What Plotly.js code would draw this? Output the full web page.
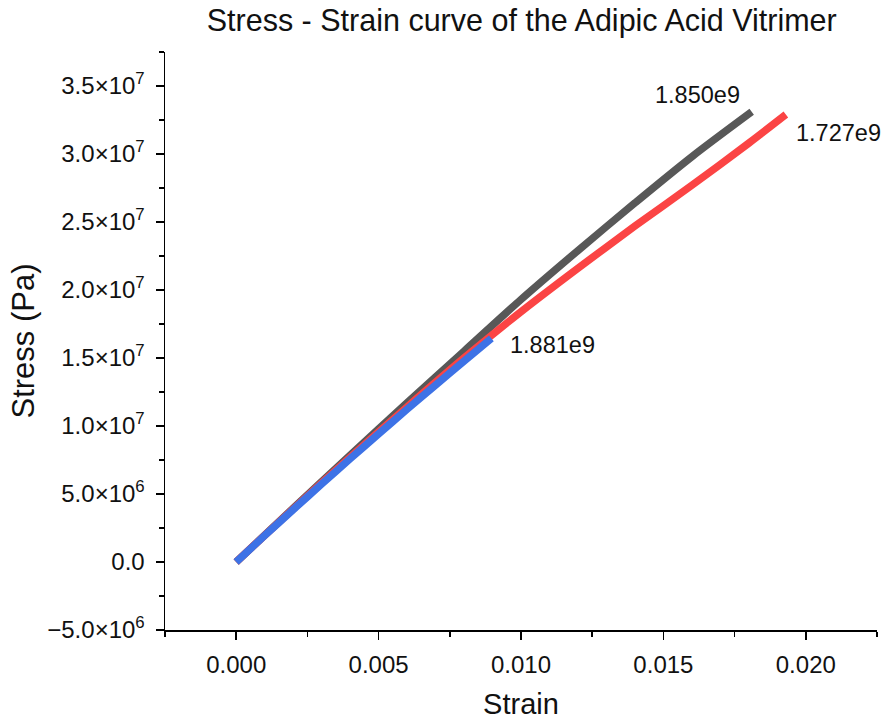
<!DOCTYPE html>
<html>
<head>
<meta charset="utf-8">
<script src="https://cdn.plot.ly/plotly-3.0.1.min.js"></script>
<style>html,body{margin:0;padding:0;background:#fff;}#chart{width:887px;height:721px;}</style>
</head>
<body>
<div id="chart"></div>
<script>
// Data
const strainGray = [0, 0.002, 0.004, 0.006, 0.008, 0.010, 0.012, 0.014, 0.016, 0.0181];
const stressGray = [0, 3.95e6, 7.85e6, 1.17e7, 1.55e7, 1.93e7, 2.29e7, 2.64e7, 2.98e7, 3.31e7];

const strainRed = [0, 0.002, 0.004, 0.006, 0.008, 0.010, 0.012, 0.014, 0.016, 0.018, 0.0193];
const stressRed = [0, 3.9e6, 7.7e6, 1.14e7, 1.50e7, 1.84e7, 2.16e7, 2.47e7, 2.77e7, 3.08e7, 3.29e7];

const strainBlue = [0, 0.001, 0.002, 0.003, 0.004, 0.005, 0.006, 0.007, 0.008, 0.00896];
const stressBlue = [0, 1.94e6, 3.85e6, 5.73e6, 7.59e6, 9.42e6, 1.123e7, 1.301e7, 1.477e7, 1.645e7];

const modulusLabels = ["1.850e9", "1.727e9", "1.881e9"];

const xTickVals = [0, 0.005, 0.010, 0.015, 0.020];
const xTickText = ["0.000", "0.005", "0.010", "0.015", "0.020"];
const yTickVals = [-5e6, 0, 5e6, 1e7, 1.5e7, 2e7, 2.5e7, 3e7, 3.5e7];
const yTickText = ["\u22125.0\u00d710<sup>6</sup>", "0.0", "5.0\u00d710<sup>6</sup>", "1.0\u00d710<sup>7</sup>",
  "1.5\u00d710<sup>7</sup>", "2.0\u00d710<sup>7</sup>", "2.5\u00d710<sup>7</sup>", "3.0\u00d710<sup>7</sup>", "3.5\u00d710<sup>7</sup>"];

const font = "Liberation Sans, Arial, sans-serif";
const ink = "#111";

const traces = [
  {x: strainGray, y: stressGray, mode: "lines", line: {color: "#585858", width: 7.5, shape: "spline", smoothing: 0.8}, hoverinfo: "skip"},
  {x: strainRed, y: stressRed, mode: "lines", line: {color: "#fb4444", width: 7.5, shape: "spline", smoothing: 0.8}, hoverinfo: "skip"},
  {x: strainBlue, y: stressBlue, mode: "lines", line: {color: "#3d72e6", width: 7.5, shape: "spline", smoothing: 0.8}, hoverinfo: "skip"}
];

const layout = {
  width: 887, height: 721,
  margin: {l: 165, r: 10, t: 52, b: 91},
  paper_bgcolor: "#fff", plot_bgcolor: "#fff",
  showlegend: false,
  font: {family: font, size: 24, color: ink},
  title: {text: "Stress - Strain curve of the Adipic Acid Vitrimer", font: {family: font, size: 30.5, color: ink},
    xref: "paper", x: 0.501, xanchor: "center", yref: "container", y: 0.972, yanchor: "middle"},
  xaxis: {
    range: [-0.0025, 0.0225], showgrid: false, zeroline: false,
    showline: true, linecolor: "#000", linewidth: 1.5,
    ticks: "outside", ticklen: 8, tickwidth: 1.5, tickcolor: "#000",
    tickvals: xTickVals, ticktext: xTickText, ticklabelstandoff: 5,
    tickfont: {family: font, size: 24, color: ink},
    minor: {dtick: 0.0025, tick0: 0, ticks: "outside", ticklen: 5, tickwidth: 1.5, tickcolor: "#000", showgrid: false},
    title: {text: "Strain", font: {family: font, size: 29, color: ink}, standoff: 16}
  },
  yaxis: {
    range: [-5e6, 3.75e7], showgrid: false, zeroline: false,
    showline: true, linecolor: "#000", linewidth: 1.5,
    ticks: "outside", ticklen: 8, tickwidth: 1.5, tickcolor: "#000",
    tickvals: yTickVals, ticktext: yTickText, ticklabelstandoff: 6,
    tickfont: {family: font, size: 24, color: ink},
    minor: {dtick: 2.5e6, tick0: 0, ticks: "outside", ticklen: 5, tickwidth: 1.5, tickcolor: "#000", showgrid: false},
    title: {text: "Stress (Pa)", font: {family: font, size: 31, color: ink}, standoff: 3}
  },
  annotations: [
    {x: 0.01621, y: 3.434e7, text: modulusLabels[0], showarrow: false, xref: "x", yref: "y", font: {family: font, size: 23.5, color: ink}},
    {x: 0.02115, y: 3.154e7, text: modulusLabels[1], showarrow: false, xref: "x", yref: "y", font: {family: font, size: 23.5, color: ink}},
    {x: 0.0111, y: 1.596e7, text: modulusLabels[2], showarrow: false, xref: "x", yref: "y", font: {family: font, size: 23.5, color: ink}}
  ]
};

Plotly.newPlot("chart", traces, layout, {staticPlot: true, displayModeBar: false});
</script>
</body>
</html>
